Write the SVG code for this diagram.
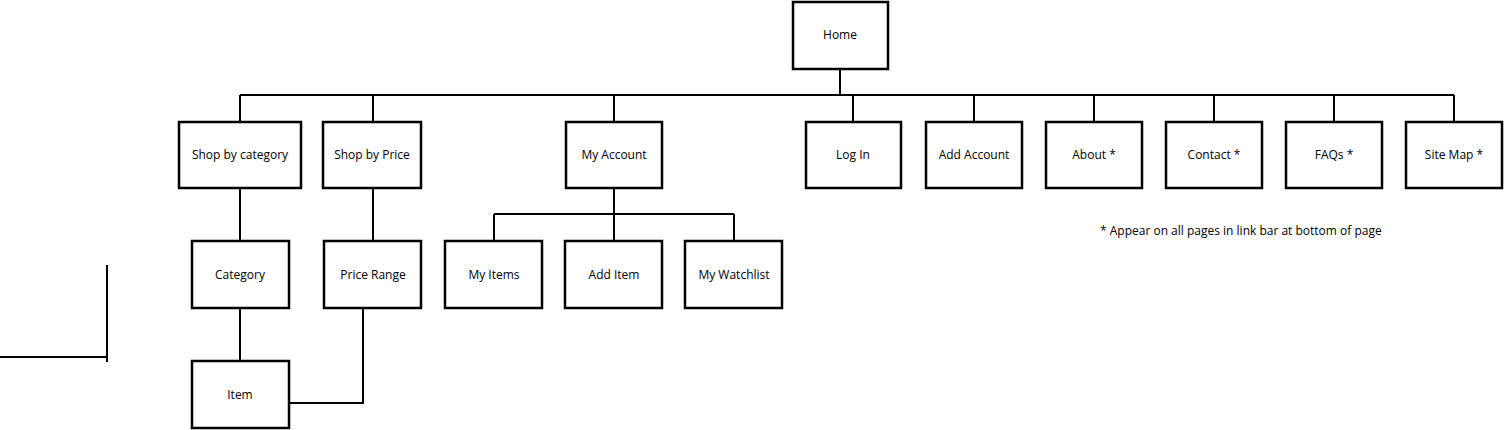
<svg xmlns="http://www.w3.org/2000/svg" width="1504" height="430" viewBox="0 0 1504 430">
<style>
.box{fill:#fff;stroke:#000;stroke-width:2.5}
.lbl{font-family:"Open Sans","Lato",sans-serif;font-size:12px;fill:#000;text-anchor:middle;dominant-baseline:central}
.ln{fill:none;stroke:#000;stroke-width:2}
</style>
<rect width="1504" height="430" fill="#fff"/>
<g id="connectors">
<path class="ln" d="M840,69 V95 M240,95 H1454 M240,95 V122 M373,95 V122 M614,95 V122 M853,95 V122 M974,95 V122 M1094,95 V122 M1214,95 V122 M1334,95 V122 M1454,95 V122"/>
<path class="ln" d="M240,188 V241 M373,188 V241 M614,188 V241 M494,214 H734 M494,214 V241 M734,214 V241"/>
<path class="ln" d="M240,308 V361 M363,308 V403 H289"/>
<path class="ln" d="M107,265 V362 M0,357 H107"/>
</g>
<g id="home"><rect class="box" x="793" y="2" width="95" height="67"/><text class="lbl" x="840" y="34">Home</text></g>
<g id="shop-by-category"><rect class="box" x="179" y="122" width="122" height="66"/><text class="lbl" x="240" y="154">Shop by category</text></g>
<g id="shop-by-price"><rect class="box" x="323" y="122" width="98" height="66"/><text class="lbl" x="372" y="154">Shop by Price</text></g>
<g id="my-account"><rect class="box" x="566" y="122" width="96" height="66"/><text class="lbl" x="614" y="154">My Account</text></g>
<g id="log-in"><rect class="box" x="806" y="122" width="95" height="66"/><text class="lbl" x="853" y="154">Log In</text></g>
<g id="add-account"><rect class="box" x="926" y="122" width="96" height="66"/><text class="lbl" x="974" y="154">Add Account</text></g>
<g id="about"><rect class="box" x="1046" y="122" width="96" height="66"/><text class="lbl" x="1094" y="154">About *</text></g>
<g id="contact"><rect class="box" x="1166" y="122" width="96" height="66"/><text class="lbl" x="1214" y="154">Contact *</text></g>
<g id="faqs"><rect class="box" x="1286" y="122" width="96" height="66"/><text class="lbl" x="1334" y="154">FAQs *</text></g>
<g id="site-map"><rect class="box" x="1406" y="122" width="96" height="66"/><text class="lbl" x="1454" y="154">Site Map *</text></g>
<g id="category"><rect class="box" x="192" y="241" width="97" height="67"/><text class="lbl" x="240" y="274">Category</text></g>
<g id="price-range"><rect class="box" x="324" y="241" width="97" height="67"/><text class="lbl" x="373" y="274">Price Range</text></g>
<g id="my-items"><rect class="box" x="445" y="241" width="97" height="67"/><text class="lbl" x="494" y="274">My Items</text></g>
<g id="add-item"><rect class="box" x="565" y="241" width="97" height="67"/><text class="lbl" x="614" y="274">Add Item</text></g>
<g id="my-watchlist"><rect class="box" x="685" y="241" width="97" height="67"/><text class="lbl" x="734" y="274">My Watchlist</text></g>
<g id="item"><rect class="box" x="192" y="361" width="97" height="67"/><text class="lbl" x="240" y="394">Item</text></g>
<g id="note"><text x="1100" y="230" style="font-family:'Open Sans','Lato',sans-serif;font-size:12px;fill:#000;dominant-baseline:central">* Appear on all pages in link bar at bottom of page</text></g>
</svg>
